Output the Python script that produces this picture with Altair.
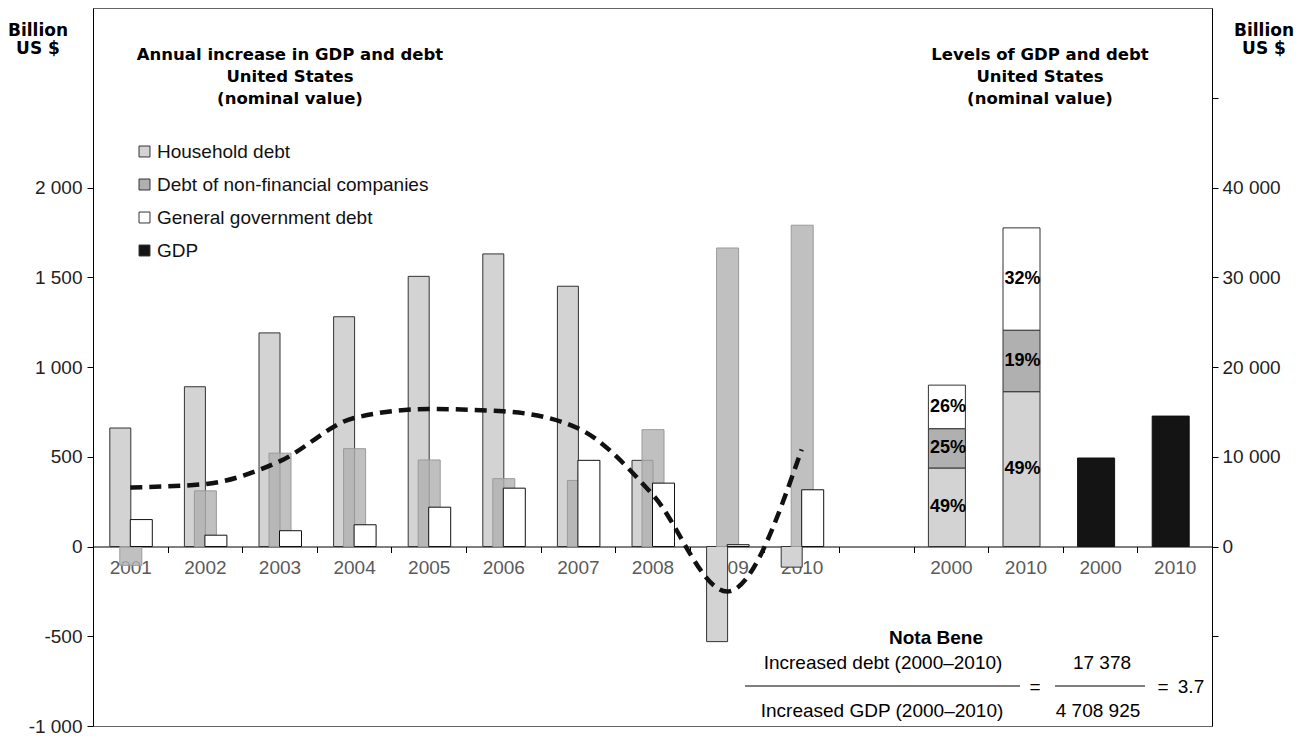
import altair as alt
import pandas as pd

# ---------------- data ----------------
years = ["2001", "2002", "2003", "2004", "2005", "2006", "2007", "2008", "2009", "2010"]
household_inc = [660, 890, 1190, 1280, 1505, 1630, 1450, 480, -530, -115]
nonfin_inc = [-105, 310, 520, 545, 482, 378, 368, 651, 1663, 1790]
gov_inc = [150, 63, 88, 121, 219, 325, 480, 353, 10, 316]
gdp_inc = [329, 348, 474, 716, 766, 753, 659, 290, -251, 541]

ZW = "\u200b"
gap_cat = ZW
debt_cats = ["2000" + ZW, "2010" + ZW]
gdp_cats = ["2000" + ZW + ZW, "2010" + ZW + ZW]
household_level = [8750, 17250]
nonfin_level = [4380, 6850]
gov_level = [4850, 11400]
household_pct = ["49%", "49%"]
nonfin_pct = ["25%", "19%"]
gov_pct = ["26%", "32%"]
gdp_level = [9860, 14530]

series_names = ["Household debt", "Debt of non-financial companies",
                "General government debt", "GDP"]
series_colors = ["#d3d3d3", "#b0b0b0", "#ffffff", "#141414"]

left_title = ["Annual increase in GDP and debt", "United States", "(nominal value)"]
right_title = ["Levels of GDP and debt", "United States", "(nominal value)"]
unit_title = ["Billion", "US $"]
nb_title = "Nota Bene"
nb_num_text = "Increased debt (2000\u20132010)"
nb_den_text = "Increased GDP (2000\u20132010)"
nb_num_val = "17 378"
nb_den_val = "4 708 925"
nb_ratio = "3.7"

x_domain = years + [gap_cat] + debt_cats + gdp_cats

# ---------------- layout ----------------
W, H = 1119, 718
FONT = "Liberation Sans"
TFONT = "DejaVu Sans"
AX = 19

fmt_expr = ("(datum.value < 0 ? '-' : '') + "
            "replace(format(abs(datum.value), ','), ',', ' ')")

X = alt.X(
    "cat:N",
    scale=alt.Scale(domain=x_domain, paddingInner=0, paddingOuter=0),
    sort=x_domain,
    axis=alt.Axis(
        title=None, tickBand="extent", offset=-0.25 * H,
        labelAngle=0, labelPadding=6, tickSize=6, tickColor="#000",
        domainColor="#000", labelColor="#5a5a5a", labelFontSize=AX, labelFont=FONT,
    ),
)

lscale = alt.Scale(domain=[-1000, 3000], nice=False, zero=False)
laxis = alt.Axis(
    orient="left", title=None, values=[-1000, -500, 0, 500, 1000, 1500, 2000],
    labelExpr=fmt_expr, grid=False, tickSize=6, tickColor="#000", domainColor="#000",
    labelColor="#222", labelFontSize=AX, labelFont=FONT, labelPadding=5,
)
rscale = alt.Scale(domain=[-20000, 60000], nice=False, zero=False)
raxis = alt.Axis(
    orient="right", title=None,
    values=[-10000, 0, 10000, 20000, 30000, 40000, 50000],
    labelExpr="datum.value < 0 || datum.value > 40000 ? '' : " + fmt_expr,
    grid=False, tickSize=6, tickColor="#000", domainColor="#000",
    labelColor="#222", labelFontSize=AX, labelFont=FONT, labelPadding=4,
)

color = alt.Color(
    "series:N",
    scale=alt.Scale(domain=series_names, range=series_colors),
    legend=alt.Legend(
        title=None, orient="none", legendX=42, legendY=134, symbolType="square",
        symbolSize=120, symbolStrokeColor="#333", symbolStrokeWidth=1,
        labelFont=FONT, labelFontSize=19, labelColor="#111", rowPadding=13,
        labelOffset=3, labelLimit=0,
    ),
)


def series_df(cats, values, name):
    return pd.DataFrame({"cat": cats, "value": values, "series": name})


one = pd.DataFrame({"k": [0]})


def text(s, x, y, size, weight="normal", font=FONT, align="center"):
    return alt.Chart(one).mark_text(
        text=s, fontSize=size, fontWeight=weight, font=font,
        align=align, baseline="middle", color="#000"
    ).encode(x=alt.value(x), y=alt.value(y))


def rule(x1, x2, y):
    return alt.Chart(one).mark_rule(color="#555", strokeWidth=1.5).encode(
        x=alt.value(x1), x2=alt.value(x2), y=alt.value(y))


annotations = []
for i, s in enumerate(left_title):
    annotations.append(text(s, 197, 47 + 22 * i, 16.5, "bold", TFONT))
for i, s in enumerate(right_title):
    annotations.append(text(s, 947, 47 + 22 * i, 16.5, "bold", TFONT))
for i, s in enumerate(unit_title):
    annotations.append(text(s, -55, 23 + 18 * i, 17, "bold", TFONT))
    annotations.append(text(s, 1171, 23 + 18 * i, 17, "bold", TFONT))
annotations += [
    text(nb_title, 843, 630, 19, "bold"),
    text(nb_num_text, 790, 655, 19),
    text(nb_den_text, 789, 703, 19),
    rule(652, 927, 678),
    text("=", 942, 679, 19),
    text(nb_num_val, 1009, 655, 19),
    text(nb_den_val, 1005, 703, 19),
    rule(962, 1052, 678),
    text("=", 1070, 679, 19),
    text(nb_ratio, 1098, 679, 19),
]

YL = alt.Y("value:Q", scale=lscale, axis=laxis)

hh = alt.Chart(series_df(years, household_inc, series_names[0])).mark_bar(
    width=21, xOffset=-10, stroke="#333", strokeWidth=1
).encode(x=X, y=YL, color=color)

nf = alt.Chart(series_df(years, nonfin_inc, series_names[1])).mark_bar(
    width=22, xOffset=0.5, stroke="#9a9a9a", strokeWidth=1, fillOpacity=0.8
).encode(x=X, y=YL, color=color)

gv = alt.Chart(series_df(years, gov_inc, series_names[2])).mark_bar(
    width=22, xOffset=11, stroke="#111", strokeWidth=1
).encode(x=X, y=YL, color=color)

line = alt.Chart(pd.DataFrame({"cat": years, "value": gdp_inc})).mark_line(
    color="#111", strokeWidth=4.5, strokeDash=[12, 7], interpolate="monotone"
).encode(x=X, y=YL)

left = alt.layer(hh, nf, gv, line, *annotations)

# ---------------- right panel (levels) ----------------
levels = pd.concat([
    pd.DataFrame({"cat": debt_cats, "value": household_level, "series": series_names[0],
                  "order": 0, "pct": household_pct}),
    pd.DataFrame({"cat": debt_cats, "value": nonfin_level, "series": series_names[1],
                  "order": 1, "pct": nonfin_pct}),
    pd.DataFrame({"cat": debt_cats, "value": gov_level, "series": series_names[2],
                  "order": 2, "pct": gov_pct}),
], ignore_index=True)

stack_base = alt.Chart(levels).transform_window(
    v1="sum(value)", groupby=["cat"], sort=[alt.SortField("order")],
    frame=[None, 0]
).transform_calculate(v0="datum.v1 - datum.value",
                      mid="datum.v1 - datum.value / 2")

stack_bars = stack_base.mark_bar(width=37, xOffset=-4, stroke="#333", strokeWidth=1).encode(
    x=X, y=alt.Y("v0:Q", scale=rscale, axis=raxis), y2="v1:Q", color=color)

pct_text = stack_base.mark_text(
    xOffset=-3, fontSize=18, fontWeight="bold", font=FONT, color="#000"
).encode(x=X, y=alt.Y("mid:Q", scale=rscale, axis=raxis), text="pct:N")

gdp_bars = alt.Chart(series_df(gdp_cats, gdp_level, series_names[3])).mark_bar(
    width=37, xOffset=-4, stroke="#111", strokeWidth=1
).encode(x=X, y=alt.Y("value:Q", scale=rscale, axis=raxis), color=color)

right = alt.layer(stack_bars, gdp_bars, pct_text)

chart = alt.layer(left, right).resolve_scale(y="independent").properties(
    width=W, height=H,
    autosize=alt.AutoSizeParams(type="none"),
    padding={"left": 85, "top": 0, "right": 94, "bottom": 10},
).configure_view(stroke="#666", strokeWidth=1)

chart.save("out.html", embed_options={"renderer": "svg", "actions": False})
